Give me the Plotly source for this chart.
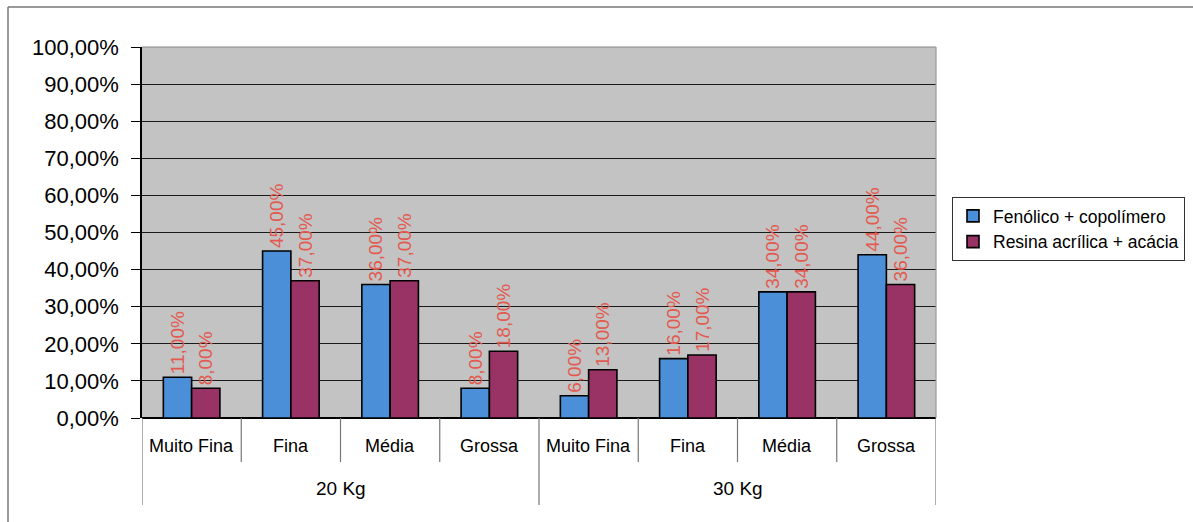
import plotly.graph_objects as go

# Categories: granulometry classes inside each load group
groups = ["20 Kg", "30 Kg"]
classes = ["Muito Fina", "Fina", "Média", "Grossa"]

# Share of each class (fraction), per formulation
fenolico = [0.11, 0.45, 0.36, 0.08, 0.06, 0.16, 0.34, 0.44]
resina = [0.08, 0.37, 0.37, 0.18, 0.13, 0.17, 0.34, 0.36]

series_names = ["Fenólico + copolímero", "Resina acrílica + acácia"]
series_colors = ["#4a8fd8", "#993366"]
y_ticks = [i / 10 for i in range(11)]

W, H = 1193, 522
L, R, T, B = 142, 257, 47, 104
PW, PH = W - L - R, H - T - B

def px_x(p):
    return (p - L) / PW

def px_y(p):
    return (H - B - p) / PH

FONT = "Arial, 'Liberation Sans', sans-serif"

n_cls = len(classes)
x_pos = list(range(len(groups) * n_cls))

fig = go.Figure()
for name, vals, col in zip(series_names, [fenolico, resina], series_colors):
    fig.add_trace(go.Bar(
        x=x_pos, y=vals, name=name,
        marker=dict(color=col, line=dict(color="#000000", width=1.6)),
        texttemplate="%{y:.2%}", textposition="outside", textangle=-90,
        textfont=dict(color="#e25a50", size=19, family=FONT),
        constraintext="none", cliponaxis=False,
    ))

annotations = []
shapes = []
# class labels under each bar pair
for i, xp in enumerate(x_pos):
    annotations.append(dict(
        x=xp, y=px_y(446), xref="x", yref="paper", yanchor="middle",
        text=classes[i % n_cls], showarrow=False,
        font=dict(size=18, color="#000000", family=FONT)))
# group labels
for g, name in enumerate(groups):
    annotations.append(dict(
        x=g * n_cls + (n_cls - 1) / 2, y=px_y(488), xref="x", yref="paper",
        yanchor="middle", text=name, showarrow=False,
        font=dict(size=19, color="#000000", family=FONT)))
# dividers between classes and groups
for k in range(len(x_pos) + 1):
    is_group = k % n_cls == 0
    shapes.append(dict(
        type="line", xref="x", yref="paper", x0=k - 0.5, x1=k - 0.5,
        y0=0, y1=px_y(505 if is_group else 462),
        line=dict(color="#777777", width=1.2)))
# plot area frame (top/right in gray)
shapes.append(dict(type="line", xref="paper", yref="paper", x0=0, x1=1, y0=1, y1=1,
                   line=dict(color="#888888", width=1.2)))
shapes.append(dict(type="line", xref="paper", yref="paper", x0=1, x1=1, y0=0, y1=1,
                   line=dict(color="#999999", width=1.2)))
# outer chart border
shapes.append(dict(type="line", xref="paper", yref="paper", x0=px_x(8), x1=px_x(W + 5),
                   y0=px_y(7), y1=px_y(7), line=dict(color="#777777", width=1.5)))
shapes.append(dict(type="line", xref="paper", yref="paper", x0=px_x(8), x1=px_x(8),
                   y0=px_y(7), y1=px_y(H + 5), line=dict(color="#777777", width=1.5)))

fig.update_layout(
    width=W, height=H,
    margin=dict(l=L, r=R, t=T, b=B, autoexpand=False),
    paper_bgcolor="#ffffff", plot_bgcolor="#c3c3c3",
    separators=",.",
    barmode="group", bargap=0.43, bargroupgap=0,
    font=dict(family=FONT, color="#000000"),
    showlegend=True,
    legend=dict(x=px_x(952), xanchor="left", y=px_y(229), yanchor="middle",
                bordercolor="#333333", borderwidth=1, bgcolor="#ffffff",
                font=dict(size=17.5, family=FONT, color="#000000"),
                itemwidth=30, tracegroupgap=2),
    xaxis=dict(range=[-0.5, len(x_pos) - 0.5], showticklabels=False, showgrid=False,
               zeroline=False, showline=False, ticks=""),
    yaxis=dict(range=[0, 1], tickvals=y_ticks, tickformat=".2%",
               showgrid=True, gridcolor="#1a1a1a", gridwidth=1,
               zeroline=True, zerolinecolor="#000000", zerolinewidth=1.5,
               showline=True, linecolor="#000000", linewidth=1.5,
               ticks="outside", ticklen=9, tickcolor="#000000", tickwidth=1.2,
               ticklabelstandoff=8,
               tickfont=dict(size=22, family=FONT, color="#000000")),
    annotations=annotations, shapes=shapes,
)

fig.write_html("out.html")
